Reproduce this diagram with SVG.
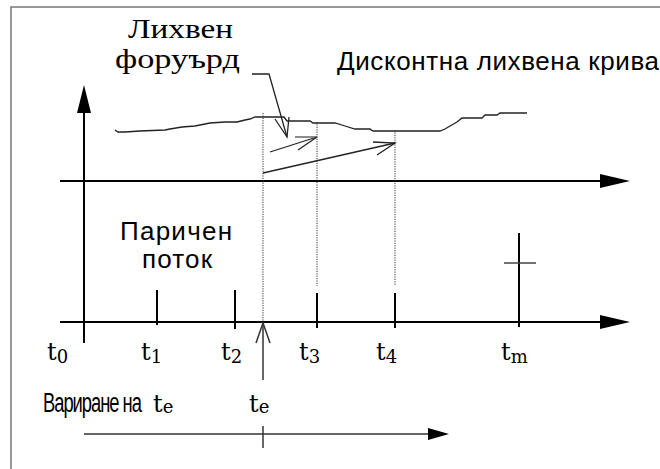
<svg xmlns="http://www.w3.org/2000/svg" width="660" height="469" viewBox="0 0 660 469">
<style>
.ax{stroke:#000;stroke-width:2;fill:none}
.tk{stroke:#000;stroke-width:2}
.thin{stroke:#222;stroke-width:1.3;fill:none}
.dot{stroke:#333;stroke-width:1;stroke-dasharray:1.2,1.2;fill:none}
.serif{font-family:"Liberation Serif","Times New Roman",serif;fill:#000}
.sans{font-family:"Liberation Sans",Arial,sans-serif;fill:#000}
.tl{font-family:"DejaVu Serif","Liberation Serif",serif;fill:#000;font-size:24px}
.sub{font-size:18px}
.head{fill:#000;stroke:none}
</style>
<rect x="11" y="7" width="700" height="500" fill="#fff" stroke="#777" stroke-width="1.5"/>

<g id="axes">
  <line class="ax" x1="84" y1="343" x2="84" y2="110"/>
  <polygon class="head" points="77,113 84,85 91,113"/>
  <line class="ax" x1="60" y1="181" x2="602" y2="181"/>
  <polygon class="head" points="600,174 630,181 600,188"/>
  <line class="ax" x1="60" y1="322" x2="602" y2="322"/>
  <polygon class="head" points="600,315 630,322 600,329"/>
</g>

<g id="ticks">
  <line class="tk" x1="157" y1="290" x2="157" y2="325"/>
  <line class="tk" x1="235" y1="290" x2="235" y2="329"/>
  <line class="tk" x1="317" y1="293" x2="317" y2="328"/>
  <line class="tk" x1="395" y1="293" x2="395" y2="328"/>
  <line class="tk" x1="519" y1="233" x2="519" y2="327"/>
  <line stroke="#444" stroke-width="1.5" x1="504" y1="263" x2="536" y2="263"/>
</g>

<g id="curve">
  <polyline class="thin" points="115,130 118,132 125,132 140,131 165,130 170,129 182,127 195,126 210,123 225,122 237,122 245,120 250,119 255,117 284,117 287,121 310,121 313,123 335,123 345,126 355,129 370,129 373,131 440,131 445,129 450,126 457,122 462,118 482,118 485,115 497,115 500,113 527,113"/>
</g>

<g id="connectors">
  <line class="dot" x1="263" y1="113" x2="263" y2="322"/>
  <line class="dot" x1="317" y1="122" x2="317" y2="286"/>
  <line class="dot" x1="395" y1="130" x2="395" y2="286"/>
  <polyline class="thin" points="252,74 269,74 287,137"/>
  <polyline class="thin" points="275,119 287,137 289,117"/>
  <line class="thin" x1="270" y1="152" x2="317" y2="137"/>
  <line stroke="#666" stroke-width="1.5" x1="295" y1="137" x2="317" y2="137"/>
  <line class="thin" x1="298" y1="150" x2="317" y2="137"/>
  <line class="thin" x1="263" y1="173" x2="395" y2="143"/>
  <polyline class="thin" points="373,142 395,143 377,155"/>
  <line stroke="#333" stroke-width="1.5" x1="263" y1="380" x2="263" y2="323"/>
  <polyline stroke="#333" stroke-width="1.5" fill="none" points="256,343 263,323 270,343"/>
  <line stroke="#333" stroke-width="1.5" x1="84" y1="434" x2="430" y2="434"/>
  <polygon class="head" points="428,428 449,434 428,440"/>
  <line stroke="#333" stroke-width="1.5" x1="263" y1="426" x2="263" y2="448"/>
</g>

<g id="label-forward">
  <text class="serif" x="128" y="38" font-size="28" textLength="105" lengthAdjust="spacingAndGlyphs">Лихвен</text>
  <text class="serif" x="115" y="68" font-size="28" textLength="125" lengthAdjust="spacingAndGlyphs">форуърд</text>
</g>
<g id="label-discount">
  <text class="sans" x="337" y="70" font-size="26" textLength="322" lengthAdjust="spacing">Дисконтна лихвена крива</text>
</g>
<g id="label-cashflow">
  <text class="sans" x="120" y="240" font-size="26" textLength="112" lengthAdjust="spacing">Паричен</text>
  <text class="sans" x="142" y="268" font-size="26" textLength="70" lengthAdjust="spacing">поток</text>
</g>
<g id="time-labels">
  <text class="tl" x="47" y="360">t<tspan class="sub" dy="3">0</tspan></text>
  <text class="tl" x="141" y="360">t<tspan class="sub" dy="3">1</tspan></text>
  <text class="tl" x="221" y="360">t<tspan class="sub" dy="3">2</tspan></text>
  <text class="tl" x="299" y="360">t<tspan class="sub" dy="3">3</tspan></text>
  <text class="tl" x="376" y="360">t<tspan class="sub" dy="3">4</tspan></text>
  <text class="tl" x="501" y="360">t<tspan class="sub" dy="3">m</tspan></text>
</g>
<g id="label-variation">
  <text class="sans" transform="translate(43,412) scale(0.68,1)" x="0" y="0" font-size="27" letter-spacing="-1.5">Вариране на</text>
  <text class="tl" x="153" y="412">t<tspan class="sub" dy="1">e</tspan></text>
  <text class="tl" x="249" y="412">t<tspan class="sub" dy="1">e</tspan></text>
</g>
</svg>
